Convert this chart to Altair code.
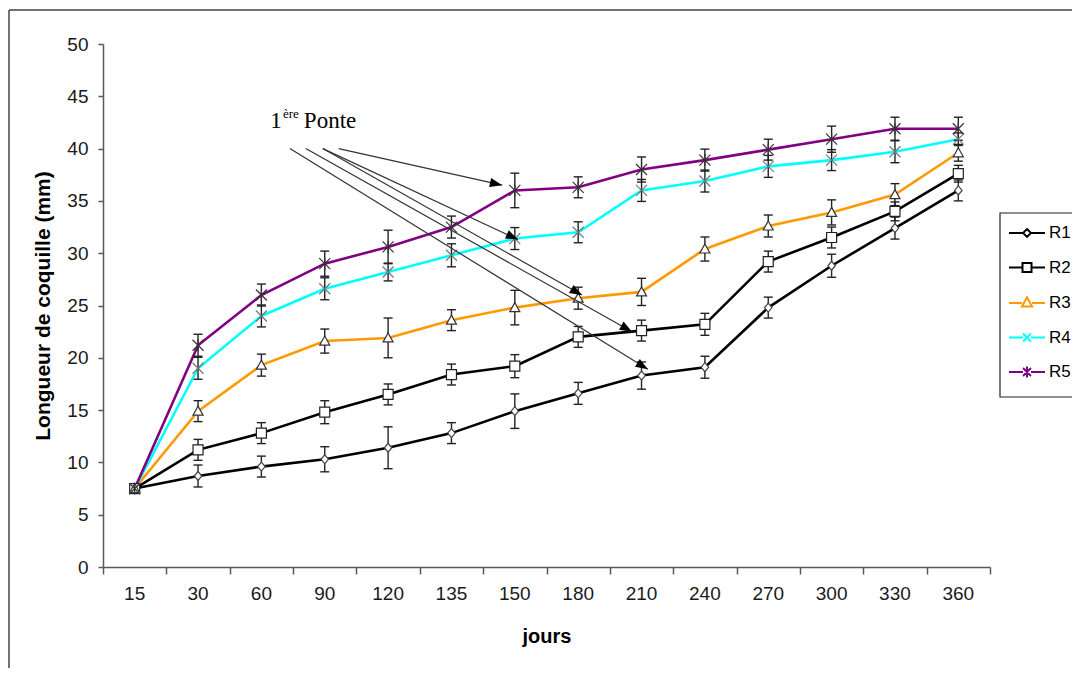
import math
import altair as alt
import pandas as pd

# ---------------- data ----------------
jours = ["15", "30", "60", "90", "120", "135", "150", "180", "210", "240", "270", "300", "330", "360"]
series = ["R1", "R2", "R3", "R4", "R5"]

r1 = [7.5, 8.7, 9.6, 10.3, 11.4, 12.8, 14.9, 16.6, 18.3, 19.1, 24.8, 28.8, 32.4, 36.0]
r1_err = [0, 1.05, 1.0, 1.2, 2.0, 1.0, 1.65, 1.05, 1.3, 1.05, 1.0, 1.1, 1.05, 1.0]
r2 = [7.5, 11.2, 12.8, 14.8, 16.5, 18.4, 19.2, 22.0, 22.6, 23.2, 29.2, 31.5, 34.0, 37.6]
r2_err = [0, 1.0, 1.0, 1.1, 1.0, 1.0, 1.1, 1.0, 1.0, 1.05, 1.0, 1.0, 0.9, 0.8]
r3 = [7.5, 14.9, 19.3, 21.6, 21.9, 23.6, 24.8, 25.7, 26.3, 30.4, 32.6, 33.9, 35.6, 39.6]
r3_err = [0, 1.0, 1.05, 1.15, 1.9, 1.0, 1.65, 1.05, 1.3, 1.15, 1.05, 1.2, 1.05, 0.8]
r4 = [7.5, 19.0, 24.0, 26.6, 28.2, 29.8, 31.4, 32.0, 36.0, 36.9, 38.3, 38.9, 39.7, 40.9]
r4_err = [0, 1.05, 1.05, 1.05, 0.85, 1.1, 1.05, 1.0, 1.05, 1.05, 1.05, 1.0, 1.05, 0.6]
r5 = [7.5, 21.2, 26.0, 29.0, 30.6, 32.5, 36.0, 36.3, 38.0, 38.9, 39.9, 40.9, 41.9, 41.9]
r5_err = [0, 1.05, 1.05, 1.2, 1.6, 1.05, 1.65, 1.0, 1.2, 1.05, 1.0, 1.25, 1.1, 1.1]

# annotation "1ère Ponte" (data coordinates: x in day-slot units, y in mm)
ann_text = ["1", "ère", "Ponte"]
ann_x = [2.64, 2.84, 3.17]
ann_y = [42.0, 42.9, 42.0]
ann_fs = [23, 13, 23]
arrow_x0 = [3.72, 3.47, 3.47, 3.20, 2.95]
arrow_y0 = [40.0, 40.0, 40.0, 40.0, 40.0]
arrow_x1 = [6.30, 6.55, 7.56, 8.35, 8.60]
arrow_y1 = [36.5, 31.3, 26.0, 22.5, 18.9]

# ---------------- styling ----------------
colors = ["#000000", "#000000", "#FF9900", "#00FFFF", "#800080"]
marker_paths = [
    "M0,-0.9L0.75,0L0,0.9L-0.75,0Z",
    "M-1,-1H1V1H-1Z",
    "M0,-1L1,0.8H-1Z",
    "M-1.1,-1.1L1.1,1.1M-1.1,1.1L1.1,-1.1",
    "M-1.1,-1.1L1.1,1.1M-1.1,1.1L1.1,-1.1M0,-1.2V1.2",
]
marker_strokes = ["#444", "#222", "#333", "#777", "#333"]
legend_paths = [
    "M-1,0H-0.22M0.22,0H1M0,-0.22L0.22,0L0,0.22L-0.22,0Z",
    "M-1,0H-0.25M0.25,0H1M-0.25,-0.25H0.25V0.25H-0.25Z",
    "M-1,0H-0.28M0.28,0H1M0,-0.32L0.28,0.2H-0.28Z",
    "M-1,0H-0.22M0.22,0H1M-0.22,-0.22L0.22,0.22M-0.22,0.22L0.22,-0.22",
    "M-1,0H-0.22M0.22,0H1M-0.22,-0.22L0.22,0.22M-0.22,0.22L0.22,-0.22M0,-0.3V0.3",
]
W, H = 887, 523
NX = len(jours)
YMAX = 50
AX = "#595959"
FONT = "Liberation Sans"

# ---------------- tables ----------------
vals = [r1, r2, r3, r4, r5]
errs = [r1_err, r2_err, r3_err, r4_err, r5_err]
rows = []
for s, v, e in zip(series, vals, errs):
    for i, (d, y, er) in enumerate(zip(jours, v, e)):
        rows.append({"serie": s, "jour": d, "pos": i + 0.5, "val": y, "err": er,
                     "lo": y - er, "hi": y + er})
df = pd.DataFrame(rows)

lab_df = pd.DataFrame({"jour": jours, "pos": [i + 0.5 for i in range(NX)]})
ann_df = pd.DataFrame({"t": ann_text, "x": ann_x, "y": ann_y, "fs": ann_fs})

pxx = W / NX
pxy = H / YMAX
angles = []
for x0, y0, x1, y1 in zip(arrow_x0, arrow_y0, arrow_x1, arrow_y1):
    dx = (x1 - x0) * pxx
    dy = -(y1 - y0) * pxy
    angles.append(math.degrees(math.atan2(dx, -dy)))
arr_df = pd.DataFrame({"x0": arrow_x0, "y0": arrow_y0, "x1": arrow_x1, "y1": arrow_y1, "ang": angles})
leg_df = pd.DataFrame({"serie": series})
one = pd.DataFrame({"a": [0]})

# ---------------- encodings ----------------
xscale = alt.Scale(domain=[0, NX], nice=False, zero=False)
yscale = alt.Scale(domain=[0, YMAX], nice=False)
X = alt.X("pos:Q", scale=xscale,
          axis=alt.Axis(values=list(range(NX + 1)), labels=False, grid=False, tickSize=7,
                        title="jours", titleFont=FONT, titleFontSize=20, titleFontWeight="bold",
                        titleColor="black", titlePadding=52))
Y = alt.Y("val:Q", scale=yscale,
          axis=alt.Axis(values=list(range(0, YMAX + 1, 5)), grid=False, tickSize=5, labelPadding=10,
                        labelFont=FONT, labelFontSize=19, labelColor="#1a1a1a",
                        title="Longueur de coquille (mm)", titleFont=FONT, titleFontSize=21,
                        titleFontWeight="bold", titleColor="black", titlePadding=13))

base = alt.Chart(df)

frame = alt.layer(
    alt.Chart(one).mark_rule(color="#444", strokeWidth=1.5).encode(
        x=alt.value(-94), y=alt.value(-34), y2=alt.value(700)),
    alt.Chart(one).mark_rule(color="#444", strokeWidth=1.5).encode(
        x=alt.value(-94), x2=alt.value(1100), y=alt.value(-34)),
)

lines = base.mark_line(strokeWidth=2.6).encode(
    x=X, y=Y,
    color=alt.Color("serie:N", scale=alt.Scale(domain=series, range=colors), legend=None),
)

errbars = base.transform_filter("datum.err > 0").mark_rule(color="#222", strokeWidth=1.4).encode(
    x=alt.X("pos:Q", scale=xscale), y=alt.Y("lo:Q", scale=yscale), y2="hi:Q")

caps = base.transform_filter("datum.err > 0").transform_fold(["lo", "hi"], as_=["k", "cv"]).mark_point(
    shape="M-1,0H1", size=81, filled=False, color="#222", strokeWidth=1.4, opacity=1).encode(
    x=alt.X("pos:Q", scale=xscale), y=alt.Y("cv:Q", scale=yscale))

marker_layers = []
for s, p, c in zip(series, marker_paths, marker_strokes):
    marker_layers.append(
        base.transform_filter(alt.datum.serie == s).mark_point(
            shape=p, filled=True, fill="white", stroke=c, strokeWidth=1.2, size=100, opacity=1).encode(
            x=alt.X("pos:Q", scale=xscale), y=alt.Y("val:Q", scale=yscale))
    )

arrows = alt.Chart(arr_df).mark_rule(color="#333", strokeWidth=1.2).encode(
    x=alt.X("x0:Q", scale=xscale), y=alt.Y("y0:Q", scale=yscale), x2="x1:Q", y2="y1:Q")
heads = alt.Chart(arr_df).mark_point(shape="M0,0L-0.45,1.2L0.45,1.2Z", size=420, filled=True,
                                     color="black", opacity=1).encode(
    x=alt.X("x1:Q", scale=xscale), y=alt.Y("y1:Q", scale=yscale),
    angle=alt.Angle("ang:Q", scale=None))

ann = alt.Chart(ann_df).mark_text(align="left", baseline="alphabetic", font="Liberation Serif",
                                  color="black").encode(
    x=alt.X("x:Q", scale=xscale), y=alt.Y("y:Q", scale=yscale), text="t:N",
    size=alt.Size("fs:Q", scale=None))

xlabels = alt.Chart(lab_df).mark_text(baseline="middle", align="center", font=FONT, fontSize=19,
                                      color="#1a1a1a").encode(
    x=alt.X("pos:Q", scale=xscale), y=alt.value(550), text="jour:N")

leg = alt.Legend(title=None, orient="none", legendX=905, legendY=170, symbolSize=1296,
                 symbolStrokeWidth=2, labelFont=FONT, labelFontSize=17, labelColor="black",
                 labelOffset=3, rowPadding=7.5, padding=0)
legend_src = alt.Chart(leg_df).mark_point(filled=False, size=1296, strokeWidth=2, opacity=1).encode(
    x=alt.value(-3000), y=alt.value(-3000),
    shape=alt.Shape("serie:N", scale=alt.Scale(domain=series, range=legend_paths), legend=leg),
    color=alt.Color("serie:N", scale=alt.Scale(domain=series, range=colors), legend=leg),
)
legend_box = alt.Chart(one).mark_rect(fillOpacity=0, stroke="#222", strokeWidth=1.2).encode(
    x=alt.value(897), x2=alt.value(1100), y=alt.value(169), y2=alt.value(353))

chart = alt.layer(
    frame, lines, errbars, caps, *marker_layers, arrows, heads, ann, xlabels, legend_src, legend_box
).resolve_scale(shape="independent", color="independent").properties(
    width=W, height=H,
    padding={"left": 95, "top": 36, "right": 82, "bottom": 101},
    autosize=alt.AutoSizeParams(type="none"),
    background="white",
).configure_view(stroke=None).configure_axis(
    domainColor=AX, tickColor=AX, domainWidth=1.5, tickWidth=1.5,
)

chart.save("out.html", embed_options={"renderer": "svg", "actions": False})
